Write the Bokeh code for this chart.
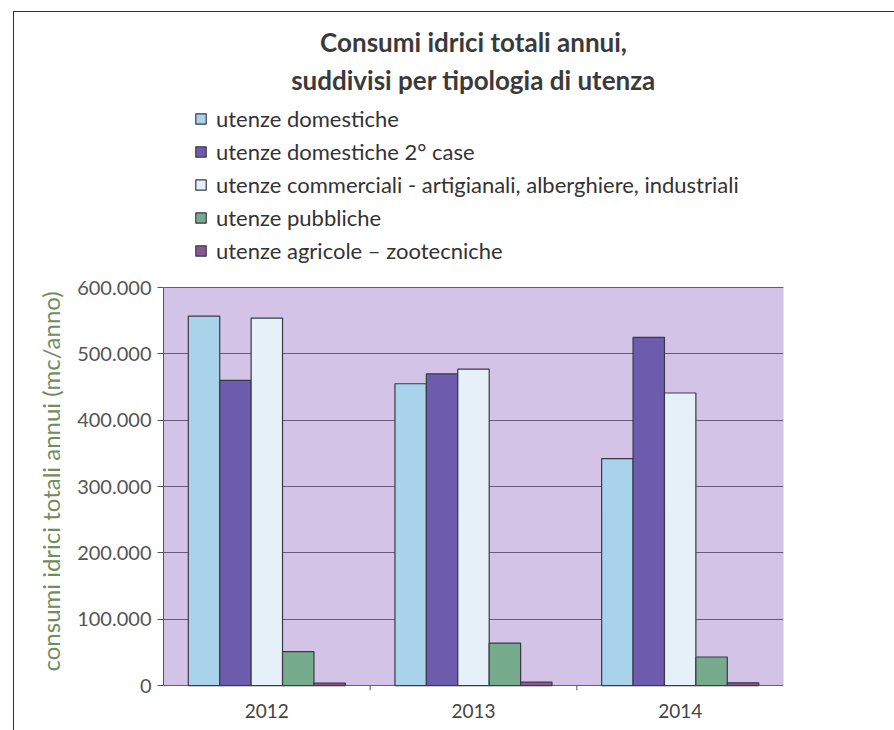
from bokeh.plotting import figure
from bokeh.models import (ColumnDataSource, Range1d, FactorRange, Legend, LegendItem,
                          Title, FixedTicker, BoxAnnotation)
from bokeh.transform import dodge
from bokeh.embed import file_html
from bokeh.resources import INLINE

years = ["2012", "2013", "2014"]
series = [
    "utenze domestiche",
    "utenze domestiche 2° case",
    "utenze commerciali - artigianali, alberghiere, industriali",
    "utenze pubbliche",
    "utenze agricole – zootecniche",
]
domestiche = [557000, 455000, 342000]
domestiche_2case = [460000, 470000, 525000]
commerciali = [554000, 477000, 441000]
pubbliche = [51000, 64000, 43000]
agricole = [3500, 5000, 4000]
values = [domestiche, domestiche_2case, commerciali, pubbliche, agricole]
colors = ["#a9d3ea", "#6d5cae", "#e6f0f8", "#76ab8e", "#8a5790"]

y_ticks = [0, 100000, 200000, 300000, 400000, 500000, 600000]
y_tick_labels = ["0", "100.000", "200.000", "300.000", "400.000", "500.000", "600.000"]
Y_MAX = 600000

title_line1 = "Consumi idrici totali annui,"
title_line2 = "suddivisi per tipologia di utenza"
y_label = "consumi idrici totali annui (mc/anno)"

FONT = "Lato"

# plot area extends above 600.000 to host the legend; visible chart box is 0..600.000
p = figure(width=881, height=719, x_range=FactorRange(*years), y_range=Range1d(-7500, 882000),
           output_backend="svg", toolbar_location=None,
           min_border_left=149, min_border_right=112, min_border_bottom=41, min_border_top=88)
p.margin = (11, 0, 0, 13)
p.styles = {"border-top": "1px solid #333", "border-left": "1px solid #333"}

p.background_fill_color = "white"
p.border_fill_color = "white"
p.outline_line_color = None

box = BoxAnnotation(bottom=0, top=Y_MAX, fill_color="#d3c3e6", fill_alpha=1,
                    line_color="#8a8a8a", line_width=1, level="image")
p.add_layout(box)

data = {"year": years}
for i, v in enumerate(values):
    data[f"s{i}"] = v
src = ColumnDataSource(data)

bw = 0.152
offsets = [-2 * bw, -bw, 0, bw, 2 * bw]
renderers = []
for i in range(len(series)):
    r = p.vbar(x=dodge("year", offsets[i], range=p.x_range), top=f"s{i}", width=bw, source=src,
               fill_color=colors[i], line_color="#3a3a46", line_width=1.2)
    renderers.append(r)

# tick marks between the year categories, below the baseline
tick_src = ColumnDataSource({"year": years[1:], "y0": [0] * 2, "y1": [-7500] * 2})
p.segment(x0=dodge("year", -0.5, range=p.x_range), x1=dodge("year", -0.5, range=p.x_range),
          y0="y0", y1="y1", source=tick_src, line_color="#555555", line_width=1)

legend = Legend(items=[LegendItem(label=series[i], renderers=[renderers[i]]) for i in range(len(series))],
                location=(31, 426), orientation="vertical")
legend.label_text_font = FONT
legend.label_text_font_size = "22px"
legend.label_text_color = "#333333"
legend.glyph_width = 13
legend.glyph_height = 13
legend.label_height = 22
legend.spacing = 6
legend.padding = 6
legend.margin = 0
legend.label_standoff = 9
legend.border_line_color = None
legend.background_fill_alpha = 0
p.add_layout(legend, "center")

t2 = Title(text=title_line2, align="center", text_font=FONT, text_font_size="26px",
           text_font_style="bold", text_color="#3a3a3a", standoff=9, text_line_height=0.85)
t1 = Title(text=title_line1, align="center", text_font=FONT, text_font_size="26px",
           text_font_style="bold", text_color="#3a3a3a", standoff=0, text_line_height=0.85)
p.add_layout(t2, "above")
p.add_layout(t1, "above")

# y axis
p.yaxis.ticker = FixedTicker(ticks=y_ticks)
p.yaxis.major_label_overrides = {t: l for t, l in zip(y_ticks, y_tick_labels)}
p.yaxis.bounds = (0, Y_MAX)
p.yaxis.major_label_text_font = FONT
p.yaxis.major_label_text_font_size = "20px"
p.yaxis.major_label_text_color = "#555555"
p.yaxis.major_tick_out = 6
p.yaxis.major_tick_in = 0
p.yaxis.minor_tick_line_color = None
p.yaxis.axis_line_color = "#555555"
p.yaxis.major_tick_line_color = "#555555"
p.yaxis.major_label_standoff = 6

ytitle = Title(text=y_label, align="left", offset=19, text_font=FONT, text_font_size="24px",
               text_font_style="normal", text_color="#6f8d5e", standoff=19)
p.add_layout(ytitle, "left")

# x axis
p.xaxis.major_label_text_font = FONT
p.xaxis.major_label_text_font_size = "19px"
p.xaxis.major_label_text_color = "#444444"
p.xaxis.major_tick_line_color = None
p.xaxis.major_tick_out = 0
p.xaxis.major_label_standoff = 13
p.xaxis.axis_line_color = None

p.xgrid.grid_line_color = None
p.ygrid.grid_line_color = "#6b5a7c"
p.ygrid.grid_line_width = 1
p.ygrid.bounds = (0, Y_MAX)

open("out.html", "w").write(file_html(p, INLINE))
